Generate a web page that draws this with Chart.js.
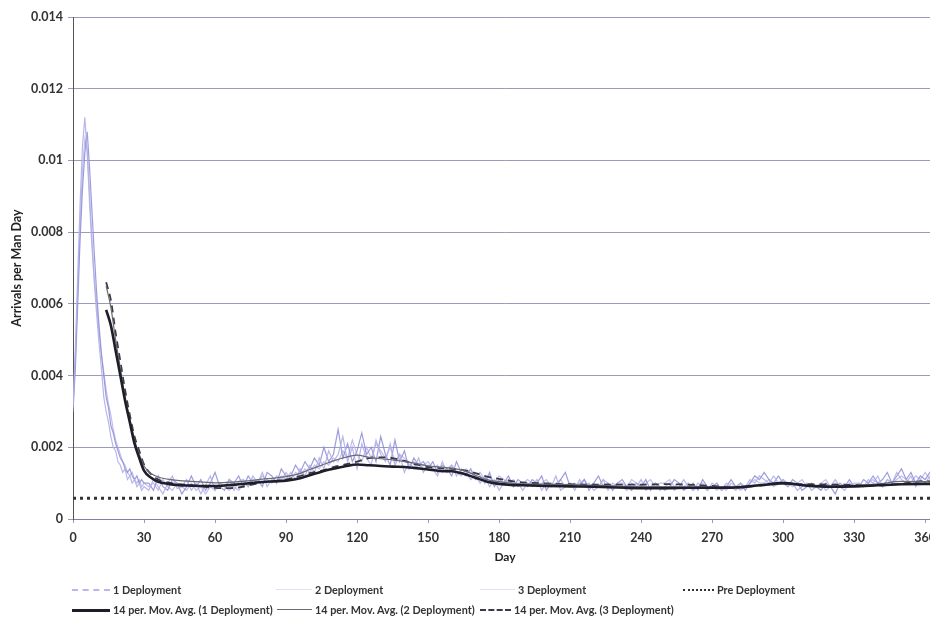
<!DOCTYPE html>
<html>
<head>
<meta charset="utf-8">
<script src="https://cdn.jsdelivr.net/npm/chart.js@4.4.0/dist/chart.umd.min.js"></script>
<style>
    html, body { margin: 0; padding: 0; background: #fff; overflow: hidden; }
    #wrap { position: relative; width: 930px; height: 622px; overflow: hidden; background: #fff; }
    #myChart { position: absolute; left: 0; top: 0; }
    .legText { position: absolute; font: bold 10.8px Lato, sans-serif; color: #333; white-space: nowrap; line-height: 12px; }
    .legLine { position: absolute; height: 0; }
</style>
</head>
<body>
<div id="wrap">
    <canvas id="myChart" width="960" height="622"></canvas>
    <div id="legend"></div>
</div>
<script>
// Day grid for the raw series: daily up to day 30, then every second day
var dayGrid = [];
for (var d = 0; d <= 30; d++) dayGrid.push(d);
for (var d = 32; d <= 364; d += 2) dayGrid.push(d);

// Arrivals per man day, raw series
var deploy1 = [
    // days 0-30
    0.0031, 0.0048, 0.0068, 0.0088, 0.0104, 0.0112, 0.0102, 0.0088, 0.0076, 0.0066,
    0.0057, 0.0049, 0.0042, 0.0034, 0.0030, 0.0027, 0.0023, 0.0020, 0.0019, 0.0016,
    0.0015, 0.0013, 0.0014, 0.0011, 0.0012, 0.0010, 0.0011, 0.0009, 0.0010, 0.0008,
    0.0009,
    // days 32-364
    0.0008, 0.0011, 0.0009, 0.0007, 0.0010, 0.0012, 0.00085, 0.0009, 0.0011, 0.0008,
    0.0010, 0.0007, 0.00095, 0.0012, 0.0008, 0.0010, 0.0009, 0.0011, 0.0008, 0.00105,
    0.0011, 0.0009, 0.0012, 0.0010, 0.0013, 0.0009, 0.0011, 0.00105, 0.0012, 0.0011,
    0.0013, 0.0011, 0.0014, 0.0012, 0.0015, 0.0013, 0.0017, 0.0014, 0.0019, 0.0016,
    0.0018, 0.0023, 0.0016, 0.0020, 0.0014, 0.0021, 0.0017, 0.0015, 0.0022, 0.0018,
    0.0016, 0.0021, 0.0015, 0.0018, 0.0013, 0.0016, 0.0014, 0.0017, 0.0013, 0.0015,
    0.0014, 0.0012, 0.0016, 0.0013, 0.0015, 0.0012, 0.0014, 0.0013, 0.0011, 0.0012,
    0.0010, 0.0012, 0.0009, 0.0011, 0.0008, 0.0010, 0.0011, 0.0009, 0.0010, 0.0008,
    0.0010, 0.0009, 0.0011, 0.0008, 0.0010, 0.0009, 0.0012, 0.0008, 0.0009, 0.0010,
    0.0008, 0.0011, 0.0009, 0.0010, 0.0008, 0.0009, 0.0011, 0.0008, 0.0010, 0.0009,
    0.0009, 0.0008, 0.0010, 0.0009, 0.0011, 0.0008, 0.0009, 0.0010, 0.0008, 0.0009,
    0.0010, 0.0008, 0.0009, 0.0011, 0.0009, 0.0008, 0.0010, 0.0009, 0.0008, 0.0010,
    0.0009, 0.0008, 0.0010, 0.0009, 0.0008, 0.0010, 0.0009, 0.0011, 0.0010, 0.0012,
    0.0011, 0.0010, 0.0012, 0.0010, 0.0011, 0.0009, 0.0010, 0.0008, 0.0009, 0.0010,
    0.0008, 0.0009, 0.0010, 0.0008, 0.0009, 0.0011, 0.0009, 0.0008, 0.0010, 0.0009,
    0.0010, 0.0009, 0.0011, 0.0010, 0.0012, 0.0009, 0.0011, 0.0010, 0.0013, 0.0011,
    0.0010, 0.0012, 0.0009, 0.0011, 0.0010, 0.0012, 0.0010
];
var deploy2 = [
    // days 0-30
    0.0030, 0.0042, 0.0060, 0.0078, 0.0092, 0.0102, 0.0108, 0.0098, 0.0086, 0.0074,
    0.0063, 0.0054, 0.0046, 0.0040, 0.0034, 0.0031, 0.0026, 0.0024, 0.0021, 0.0019,
    0.0017, 0.0016, 0.0014, 0.0013, 0.0014, 0.0012, 0.0011, 0.0012, 0.0010, 0.0011,
    0.0010,
    // days 32-364
    0.0010, 0.0008, 0.0012, 0.0009, 0.0008, 0.0011, 0.0010, 0.0007, 0.0009, 0.0012,
    0.0009, 0.0011, 0.0008, 0.0010, 0.0013, 0.0009, 0.0008, 0.0011, 0.0010, 0.0012,
    0.0009, 0.0012, 0.0010, 0.0011, 0.0009, 0.0013, 0.0012, 0.0010, 0.0014, 0.0012,
    0.0012, 0.0015, 0.0013, 0.0016, 0.0014, 0.0017, 0.0015, 0.0020, 0.0016, 0.0018,
    0.0025, 0.0017, 0.0021, 0.0016, 0.0019, 0.0024, 0.0018, 0.0020, 0.0016, 0.0023,
    0.0018, 0.0015, 0.0022, 0.0016, 0.0019, 0.0014, 0.0017, 0.0015, 0.0016, 0.0014,
    0.0016, 0.0013, 0.0015, 0.0014, 0.0012, 0.0016, 0.0013, 0.0012, 0.0014, 0.0011,
    0.0012, 0.0010, 0.0013, 0.0009, 0.0011, 0.0010, 0.0012, 0.0009, 0.0011, 0.0010,
    0.0009, 0.0011, 0.0010, 0.0012, 0.0008, 0.0010, 0.0009, 0.0011, 0.0013, 0.0009,
    0.0010, 0.0009, 0.0011, 0.0008, 0.0010, 0.0012, 0.0009, 0.0010, 0.0008, 0.0010,
    0.0011, 0.0009, 0.0008, 0.0010, 0.0009, 0.0011, 0.0008, 0.0010, 0.0009, 0.0008,
    0.0009, 0.0011, 0.0010, 0.0008, 0.0009, 0.0010, 0.0008, 0.0011, 0.0009, 0.0009,
    0.0010, 0.0008, 0.0009, 0.0011, 0.0009, 0.0010, 0.0008, 0.0010, 0.0012, 0.0011,
    0.0013, 0.0011, 0.0010, 0.0012, 0.0010, 0.0009, 0.0011, 0.0010, 0.0008, 0.0009,
    0.0010, 0.0009, 0.0008, 0.0010, 0.0009, 0.0007, 0.0010, 0.0009, 0.0011, 0.0009,
    0.0009, 0.0011, 0.0010, 0.0012, 0.0010, 0.0011, 0.0013, 0.0010, 0.0012, 0.0014,
    0.0011, 0.0013, 0.0010, 0.0012, 0.0011, 0.0013, 0.0011
];
var deploy3 = [
    // days 0-30
    0.0032, 0.0045, 0.0064, 0.0082, 0.0097, 0.0106, 0.0103, 0.0091, 0.0078, 0.0067,
    0.0060, 0.0052, 0.0046, 0.0041, 0.0036, 0.0032, 0.0029, 0.0025, 0.0022, 0.0020,
    0.0018, 0.0016, 0.0015, 0.0013, 0.0012, 0.0013, 0.0011, 0.0010, 0.0011, 0.0009,
    0.0010,
    // days 32-364
    0.0009, 0.0010, 0.0008, 0.0011, 0.0009, 0.0008, 0.0010, 0.0009, 0.0008, 0.0010,
    0.0008, 0.0009, 0.0007, 0.0009, 0.0008, 0.0010, 0.0009, 0.0008, 0.0009, 0.0008,
    0.0010, 0.0009, 0.0011, 0.0010, 0.0012, 0.0011, 0.0010, 0.0012, 0.0011, 0.0013,
    0.0011, 0.0013, 0.0012, 0.0014, 0.0013, 0.0015, 0.0014, 0.0016, 0.0015, 0.0017,
    0.0016, 0.0019, 0.0017, 0.0022, 0.0018, 0.0016, 0.0020, 0.0017, 0.0021, 0.0019,
    0.0017, 0.0020, 0.0016, 0.0018, 0.0017, 0.0015, 0.0016, 0.0014, 0.0015, 0.0016,
    0.0014, 0.0015, 0.0013, 0.0014, 0.0015, 0.0013, 0.0012, 0.0014, 0.0013, 0.0012,
    0.0013, 0.0011, 0.0012, 0.0010, 0.0012, 0.0011, 0.0010, 0.0011, 0.0009, 0.0010,
    0.0011, 0.0010, 0.0009, 0.0010, 0.0011, 0.0009, 0.0010, 0.0011, 0.0009, 0.0010,
    0.0009, 0.0010, 0.0011, 0.0009, 0.0010, 0.0009, 0.0011, 0.0010, 0.0009, 0.0010,
    0.0010, 0.0009, 0.0011, 0.0010, 0.0009, 0.0010, 0.0011, 0.0009, 0.0010, 0.0010,
    0.0011, 0.0009, 0.0010, 0.0009, 0.0010, 0.0008, 0.0009, 0.0010, 0.0008, 0.0009,
    0.0008, 0.0009, 0.0008, 0.0010, 0.0009, 0.0008, 0.0009, 0.0010, 0.0011, 0.0010,
    0.0010, 0.0011, 0.0009, 0.0010, 0.0011, 0.0010, 0.0009, 0.0010, 0.0011, 0.0009,
    0.0010, 0.0009, 0.0010, 0.0011, 0.0009, 0.0010, 0.0009, 0.0010, 0.0009, 0.0010,
    0.0010, 0.0009, 0.0010, 0.0011, 0.0010, 0.0009, 0.0011, 0.0010, 0.0011, 0.0012,
    0.0011, 0.0010, 0.0012, 0.0011, 0.0013, 0.0011, 0.0012
];

// 14 period moving averages (at these days)
var maDays = [14, 16, 18, 20, 22, 24, 26, 28, 30, 33, 36,
    40, 45, 50, 55, 60, 65, 70, 75, 80, 85, 90, 95, 100, 105, 110, 115, 120, 125, 130,
    135, 140, 145, 150, 155, 160, 165, 170, 175, 180, 185, 190,
    200, 210, 220, 230, 240, 250, 260, 270, 280, 290, 300, 310, 320, 330, 340, 350, 360, 365];
var movAvg1 = [0.00583, 0.0054, 0.0047, 0.0040, 0.0033, 0.0027, 0.0021, 0.0017, 0.00135, 0.00115, 0.00104,
    0.00098, 0.00094, 0.00093, 0.00092, 0.00092, 0.00094, 0.00097, 0.00100, 0.00103, 0.00105, 0.00107, 0.00112, 0.00122, 0.00132, 0.0014, 0.00147, 0.00152, 0.00150, 0.00148,
    0.00146, 0.00145, 0.00142, 0.00138, 0.00134, 0.00133, 0.00126, 0.00115, 0.00104, 0.00098, 0.00095, 0.00094,
    0.00092, 0.00091, 0.00090, 0.00088, 0.00086, 0.00086, 0.00087, 0.00087, 0.00088, 0.00094, 0.00100, 0.00093, 0.00090, 0.00091, 0.00094, 0.00097, 0.00098, 0.00097];
var movAvg2 = [0.0065, 0.0059, 0.0050, 0.0042, 0.0034, 0.0028, 0.0022, 0.0018, 0.00148, 0.00127, 0.00117,
    0.00111, 0.00107, 0.00105, 0.00103, 0.00101, 0.00102, 0.00104, 0.00107, 0.00111, 0.00114, 0.00118, 0.00125, 0.00138, 0.0015, 0.00162, 0.00172, 0.00178, 0.00172, 0.00168,
    0.00165, 0.00160, 0.00155, 0.00148, 0.00145, 0.00142, 0.00135, 0.00122, 0.0011, 0.00104, 0.0010, 0.00098,
    0.00097, 0.00096, 0.00094, 0.00092, 0.0009, 0.0009, 0.00089, 0.0009, 0.0009, 0.00093, 0.00098, 0.00094, 0.00092, 0.00094, 0.00098, 0.00105, 0.00104, 0.00102];
var movAvg3 = [0.0066, 0.0061, 0.0052, 0.0044, 0.0036, 0.0029, 0.0023, 0.0019, 0.00152, 0.00125, 0.00110,
    0.00102, 0.00097, 0.00094, 0.00090, 0.00087, 0.00086, 0.00088, 0.00095, 0.00102, 0.00106, 0.0011, 0.00118, 0.00128, 0.00135, 0.00145, 0.00152, 0.0016, 0.0017, 0.00172,
    0.0017, 0.00162, 0.00152, 0.00145, 0.00142, 0.00140, 0.00136, 0.00128, 0.00118, 0.00112, 0.00106, 0.00102,
    0.00099, 0.00097, 0.00096, 0.00096, 0.00096, 0.00097, 0.00096, 0.00092, 0.00089, 0.00093, 0.00098, 0.00097, 0.00096, 0.00095, 0.00094, 0.00098, 0.00106, 0.00104];

// Pre deployment level
var preDays = [0, 365];
var preDeployment = [0.00058, 0.00058];

var seriesNames = ['1 Deployment', '2 Deployment', '3 Deployment', 'Pre Deployment',
    '14 per. Mov. Avg. (1 Deployment)', '14 per. Mov. Avg. (2 Deployment)', '14 per. Mov. Avg. (3 Deployment)'];

function toPoints(xs, ys) {
    var pts = [];
    for (var i = 0; i < xs.length && i < ys.length; i++) pts.push({ x: xs[i], y: ys[i] });
    return pts;
}

Chart.defaults.font.family = 'Lato, sans-serif';
Chart.defaults.color = '#333';

var gridColor = 'rgba(120, 120, 170, 0.75)';

var ctx = document.getElementById('myChart').getContext('2d');
var myChart = new Chart(ctx, {
    type: 'line',
    data: {
        datasets: [
            { label: seriesNames[0], data: toPoints(dayGrid, deploy1), borderColor: 'rgba(175, 175, 232, 0.9)', borderWidth: 1.2, order: 2 },
            { label: seriesNames[1], data: toPoints(dayGrid, deploy2), borderColor: 'rgba(140, 140, 215, 0.85)', borderWidth: 1.2, order: 2 },
            { label: seriesNames[2], data: toPoints(dayGrid, deploy3), borderColor: 'rgba(185, 178, 232, 0.85)', borderWidth: 1.2, order: 2 },
            { label: seriesNames[3], data: toPoints(preDays, preDeployment), borderColor: '#333', borderWidth: 3, borderDash: [3, 4], order: 1 },
            { label: seriesNames[4], data: toPoints(maDays, movAvg1), borderColor: '#1e1e28', borderWidth: 2.6, cubicInterpolationMode: 'monotone', order: 0 },
            { label: seriesNames[5], data: toPoints(maDays, movAvg2), borderColor: '#6a6a74', borderWidth: 1.2, cubicInterpolationMode: 'monotone', order: 0 },
            { label: seriesNames[6], data: toPoints(maDays, movAvg3), borderColor: '#3a3a44', borderWidth: 1.8, borderDash: [7, 5], cubicInterpolationMode: 'monotone', order: 0 }
        ]
    },
    options: {
        responsive: false,
        animation: false,
        layout: { padding: { top: 17, right: 23, bottom: 53, left: 0 } },
        elements: { point: { radius: 0 }, line: { fill: false, tension: 0 } },
        plugins: { legend: { display: false }, tooltip: { enabled: false } },
        scales: {
            x: {
                type: 'linear',
                min: 0,
                max: 365,
                afterFit: function (s) { s.height = 50; },
                ticks: { stepSize: 30, includeBounds: false, padding: 7, font: { size: 12.5, weight: 'bold' }, color: '#333' },
                grid: { drawOnChartArea: false, tickLength: 4, color: gridColor },
                border: { color: gridColor },
                title: { display: true, text: 'Day', font: { size: 12, weight: 'bold' }, color: '#222', padding: { top: 0, bottom: 5 } }
            },
            y: {
                min: 0,
                max: 0.014,
                afterFit: function (s) { s.width = 73; },
                ticks: {
                    stepSize: 0.002,
                    padding: 5,
                    font: { size: 12.5, weight: 'bold' },
                    color: '#333',
                    callback: function (value) { return String(parseFloat(value.toFixed(3))); }
                },
                grid: { color: gridColor, tickLength: 5 },
                border: { color: '#555' },
                title: { display: true, text: 'Arrivals per Man Day', font: { size: 12.5, weight: 'bold' }, color: '#222', padding: { top: 9, bottom: 0 } }
            }
        }
    }
});

// Legend, laid out in two rows under the plot like the original
var legendItems = [
    { text: seriesNames[0], x: 72, y: 590, w: 38, line: '2px dashed rgba(175,175,232,0.9)' },
    { text: seriesNames[1], x: 276, y: 590, w: 36, line: '1px solid rgba(225,225,242,1)' },
    { text: seriesNames[2], x: 480, y: 590, w: 35, line: '1px solid rgba(225,225,242,1)' },
    { text: seriesNames[3], x: 683, y: 590, w: 31, line: '2px dotted #333' },
    { text: seriesNames[4], x: 72, y: 610, w: 38, line: '3px solid #1e1e28' },
    { text: seriesNames[5], x: 277, y: 610, w: 35, line: '1px solid #6a6a74' },
    { text: seriesNames[6], x: 480, y: 610, w: 31, line: '2px dashed #3a3a44' }
];
var legendEl = document.getElementById('legend');
legendItems.forEach(function (it) {
    var ln = document.createElement('div');
    ln.className = 'legLine';
    ln.style.left = it.x + 'px';
    ln.style.top = (it.y - 1) + 'px';
    ln.style.width = it.w + 'px';
    ln.style.borderTop = it.line;
    legendEl.appendChild(ln);
    var tx = document.createElement('div');
    tx.className = 'legText';
    tx.style.left = (it.x + it.w + 3) + 'px';
    tx.style.top = (it.y - 6) + 'px';
    tx.textContent = it.text;
    legendEl.appendChild(tx);
});
</script>
</body>
</html>
